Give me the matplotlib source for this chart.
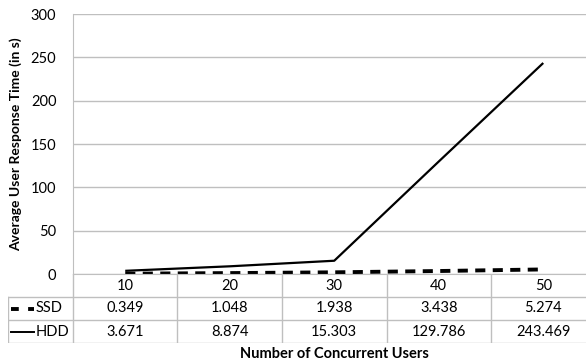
import matplotlib.pyplot as plt
import numpy as np

users = ['10', '20', '30', '40', '50']
ssd = [0.349, 1.048, 1.938, 3.438, 5.274]
hdd = [3.671, 8.874, 15.303, 129.786, 243.469]
yticks = [0, 50, 100, 150, 200, 250, 300]

plt.rcParams['font.family'] = ['Lato', 'DejaVu Sans']
grey = '#BFBFBF'
W, H = 586, 364
dash = (2.6, 1.9)

fig = plt.figure(figsize=(W / 100, H / 100), dpi=100)

# plot area (pixels): left 73, right 595.5 (runs past the edge), top 14, bottom 274
left, right, top, bottom = 73, 595.5, 14, 274
ax = fig.add_axes([left / W, 1 - bottom / H, (right - left) / W, (bottom - top) / H])
x = np.arange(len(users))
ax.plot(x, hdd, color='black', lw=1.6, solid_capstyle='butt')
ax.plot(x, ssd, color='black', lw=2.8, dashes=dash)
ax.set_xlim(-0.5, len(users) - 0.5)
ax.set_ylim(0, 300)
ax.set_yticks(yticks)
ax.set_xticks([])
ax.tick_params(axis='y', length=0, pad=12, labelsize=10.5)
ax.grid(axis='y', color=grey, lw=1)
for s in ['top', 'right']:
    ax.spines[s].set_visible(False)
ax.spines['left'].set_color(grey)
ax.spines['bottom'].set_color(grey)
ax.set_ylabel('Average User Response Time (in s)', fontsize=10, fontweight='bold', labelpad=6)

# data table under the plot
row_h = 23
t_left, t_bottom = 8, bottom + 3 * row_h
col_w = (right - left) / len(users)
lab_w = (left - t_left) / col_w
tab = fig.add_axes([t_left / W, 1 - t_bottom / H, (right - t_left) / W, 3 * row_h / H])
tab.set_xlim(-0.5 - lab_w, len(users) - 0.5)
tab.set_ylim(3, 0)
tab.axis('off')

for i in range(len(users) + 1):
    tab.plot([i - 0.5, i - 0.5], [0, 3], color=grey, lw=1)
tab.plot([-0.5 - lab_w, -0.5 - lab_w], [1, 3], color=grey, lw=1)
for r in [1, 2, 3]:
    tab.plot([-0.5 - lab_w, len(users) - 0.5], [r, r], color=grey, lw=1)

for i, u in enumerate(users):
    tab.text(i, 0.5, u, ha='center', va='center', fontsize=10.5)
    tab.text(i, 1.5, f'{ssd[i]:.3f}', ha='center', va='center', fontsize=10.5)
    tab.text(i, 2.5, f'{hdd[i]:.3f}', ha='center', va='center', fontsize=10.5)

# legend keys in the row headers
x_tab0 = -0.5 - lab_w
kx0 = x_tab0 + 3 / col_w
kx1 = x_tab0 + 26 / col_w
tx = x_tab0 + 28 / col_w
tab.plot([kx0, kx1], [1.5, 1.5], color='black', lw=2.8, dashes=(2.0, 2.4))
tab.plot([kx0, kx1], [2.5, 2.5], color='black', lw=1.4)
tab.text(tx, 1.5, 'SSD', ha='left', va='center', fontsize=10.5)
tab.text(tx, 2.5, 'HDD', ha='left', va='center', fontsize=10.5)

fig.text((left + right) / 2 / W, 1 - 354 / H, 'Number of Concurrent Users',
         ha='center', va='center', fontsize=10.5, fontweight='bold')

fig.savefig('out.png', dpi=100)
